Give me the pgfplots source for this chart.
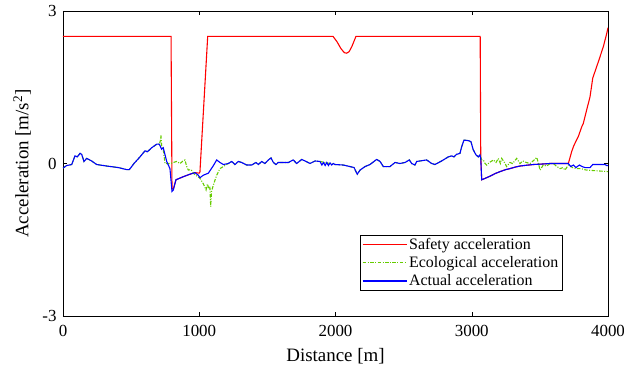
\documentclass[border=0pt]{standalone}
\usepackage{pgfplots}
\pgfplotsset{compat=1.18}
\usepackage{fontspec}
\setmainfont{Liberation Serif}
\definecolor{sred}{RGB}{255,0,0}
\definecolor{egreen}{RGB}{102,204,0}
\definecolor{ablue}{RGB}{0,0,255}
\begin{document}
\begin{tikzpicture}
\begin{axis}[
  scale only axis,
  width=545bp, height=305bp,
  xmin=0, xmax=4000, ymin=-3, ymax=3,
  xtick={0,1000,2000,3000,4000},
  ytick={-3,0,3},
  tick align=inside,
  major tick length=4bp,
  /pgf/number format/assume math mode=true,
  /pgf/number format/1000 sep={},
  tick label style={font=\fontsize{17}{19}\selectfont},
  xticklabel style={yshift=-6bp},
  yticklabel style={xshift=-3bp},
  label style={font=\fontsize{19}{21}\selectfont},
  xlabel={Distance [m]},
  ylabel={Acceleration [m/s\textsuperscript{2}]},
  xlabel style={at={(axis description cs:0.5,-0.131)}, anchor=center},
  ylabel style={at={(axis description cs:-0.0752,0.5)}, anchor=center},
  axis line style={line width=0.6pt},
  every tick/.style={black, line width=0.5pt},
  legend style={at={(rel axis cs:0.9156,0.082)}, anchor=south east, draw=black, line width=0.5pt,
    font=\fontsize{16}{18}\selectfont, cells={anchor=west}, inner sep=1.5pt, row sep=1.5pt},
  legend image code/.code={\draw[#1] (0bp,0bp) -- (44bp,0bp);},
]
\coordinate (bl) at (rel axis cs:0,0);
\addplot[sred, line width=1.1pt] coordinates {
(0,2.5) (793,2.5) (800,-0.5) (810,-0.5) (829,-0.32) (883,-0.26) (932,-0.21) (969,-0.18) (1000,-0.19) (1005,-0.17) (1062,2.5)
(1982,2.5) (2010,2.4) (2040,2.26) (2065,2.18) (2082,2.17) (2100,2.2) (2120,2.3) (2150,2.5)
(3062,2.5) (3066,0.15) (3073,-0.32) (3100,-0.29) (3134,-0.25) (3170,-0.2) (3207,-0.16) (3250,-0.12) (3281,-0.1) (3320,-0.07) (3354,-0.05) (3400,-0.035) (3452,-0.02) (3520,-0.01) (3574,0.0) (3709,0.0)
(3733,0.23) (3746,0.33) (3758,0.4) (3782,0.53) (3807,0.72) (3819,0.79) (3843,1.05) (3868,1.31) (3888,1.68) (3929,2.0) (3966,2.3) (3990,2.55) (4000,2.67)
};
\addlegendentry{Safety acceleration}
\addplot[egreen, line width=1.1pt, dash pattern=on 3.5pt off 1.5pt on 1pt off 1.5pt] coordinates {
(0,-0.09) (27,-0.04) (64,-0.02) (88,0.15) (105,0.13) (125,0.2) (137,0.18) (154,0.04) (174,0.1) (210,0.05) (247,-0.02) (321,-0.05) (406,-0.08) (467,-0.12) (487,-0.12) (521,0.0) (565,0.13) (602,0.25) (619,0.23) (651,0.31) (688,0.38) (707,0.38)
(715,0.45) (719,0.55) (724,0.35) (736,0.27) (749,0.0) (790,0.0) (810,0.02) (834,0.04) (860,0.0) (880,0.05) (895,0.07) (908,-0.06) (920,-0.13) (940,-0.12) (960,-0.2) (985,-0.25) (1005,-0.29) (1030,-0.4) (1050,-0.52) (1060,-0.4) (1070,-0.5) (1078,-0.45) (1084,-0.85) (1090,-0.55) (1104,-0.42) (1128,-0.23) (1152,-0.1) (1177,-0.06) (1200,-0.02)
(1238,0.04) (1262,-0.02) (1287,0.04) (1311,0.02) (1348,-0.03) (1385,-0.03) (1416,0.02) (1434,-0.02) (1458,0.04) (1482,0.0) (1507,0.07) (1527,0.11) (1544,0.02) (1563,-0.02) (1580,0.02) (1617,0.02) (1654,0.02) (1690,0.07) (1715,0.0) (1752,0.08) (1776,0.05) (1813,0.0) (1850,0.05) (1886,0.04) (1996,-0.02) (2057,-0.03) (2106,-0.06) (2136,-0.08) (2160,-0.21) (2180,-0.13) (2217,-0.06) (2253,-0.02) (2302,0.08) (2327,0.04) (2351,-0.06) (2400,-0.06) (2437,0.02) (2473,0.0) (2510,0.02) (2542,0.07) (2559,0.0) (2583,-0.03) (2596,0.04) (2669,0.07) (2706,0.0) (2730,-0.02) (2779,0.05) (2828,0.13) (2853,0.15) (2870,0.13) (2889,0.18) (2914,0.2) (2926,0.33) (2943,0.46) (2975,0.45) (2994,0.43) (3011,0.27) (3031,0.17) (3048,0.13) (3060,0.17)
(3073,0.07) (3085,0.07) (3098,0.0) (3110,-0.03) (3130,0.02) (3159,0.07) (3178,0.02) (3195,0.1) (3210,0.0) (3220,0.1) (3240,0.02) (3256,-0.06) (3280,0.02) (3300,0.0) (3330,0.1) (3354,0.0) (3375,0.05) (3400,0.02) (3428,0.0) (3450,0.05) (3477,0.12) (3490,0.0) (3501,-0.13) (3525,-0.03) (3550,-0.05) (3575,0.0) (3599,0.0) (3620,-0.05) (3648,-0.1) (3670,-0.08) (3684,-0.13) (3709,-0.03) (3740,-0.08) (3770,-0.1) (3800,-0.1) (3843,-0.13) (3900,-0.14) (3950,-0.15) (4000,-0.16)
};
\addlegendentry{Ecological acceleration}
\addplot[ablue, line width=1.1pt] coordinates {
(0,-0.09) (27,-0.04) (64,-0.02) (88,0.15) (105,0.13) (125,0.2) (137,0.18) (154,0.04) (174,0.1) (210,0.05) (247,-0.02) (321,-0.05) (406,-0.08) (467,-0.12) (487,-0.12) (521,0.0) (565,0.13) (602,0.25) (619,0.23) (651,0.31) (688,0.38) (707,0.38) (724,0.28) (736,0.31) (749,0.17) (761,0.04) (785,-0.1) (800,-0.55) (810,-0.52) (829,-0.32) (883,-0.26) (932,-0.21) (969,-0.18) (993,-0.23) (1005,-0.28) (1030,-0.23) (1067,-0.19) (1104,-0.04) (1128,0.07) (1152,0.02) (1177,-0.02) (1214,0.0) (1238,0.04) (1262,-0.02) (1287,0.04) (1311,0.02) (1348,-0.03) (1385,-0.03) (1416,0.02) (1434,-0.02) (1458,0.04) (1482,0.0) (1507,0.07) (1527,0.11) (1544,0.02) (1563,-0.02) (1580,0.02) (1617,0.02) (1654,0.02) (1690,0.07) (1715,0.0) (1752,0.08) (1776,0.05) (1813,0.0) (1850,0.05) (1886,0.04)
(1900,-0.03) (1912,0.02) (1924,-0.04) (1936,0.02) (1948,-0.04) (1960,0.01) (1972,-0.03) (1984,0.0) (1996,-0.02) (2057,-0.03) (2106,-0.06) (2136,-0.08) (2160,-0.21) (2180,-0.13) (2217,-0.06) (2253,-0.02) (2302,0.08) (2327,0.04) (2351,-0.06) (2400,-0.06) (2437,0.02) (2473,0.0) (2510,0.02) (2542,0.07) (2559,0.0) (2583,-0.03) (2596,0.04) (2669,0.07) (2706,0.0) (2730,-0.02) (2779,0.05) (2828,0.13) (2853,0.15) (2870,0.13) (2889,0.18) (2914,0.2) (2926,0.33) (2943,0.46) (2975,0.45) (2994,0.43) (3011,0.27) (3031,0.17) (3048,0.13) (3060,0.17) (3066,0.1)
(3073,-0.32) (3100,-0.29) (3134,-0.25) (3170,-0.2) (3207,-0.16) (3250,-0.12) (3281,-0.1) (3320,-0.07) (3354,-0.05) (3400,-0.035) (3452,-0.02) (3520,-0.01) (3574,0.0) (3709,0.0) (3726,-0.06) (3746,-0.03) (3765,-0.08) (3790,-0.03) (3810,-0.06) (3831,-0.08) (3868,-0.08) (3888,-0.02) (3978,-0.02) (3990,-0.04) (4000,-0.04)
};
\addlegendentry{Actual acceleration}
\end{axis}
\pgfresetboundingbox
\path[use as bounding box] (bl) ++(-63bp,-52bp) rectangle ++(624bp,368bp);
\end{tikzpicture}
\end{document}
